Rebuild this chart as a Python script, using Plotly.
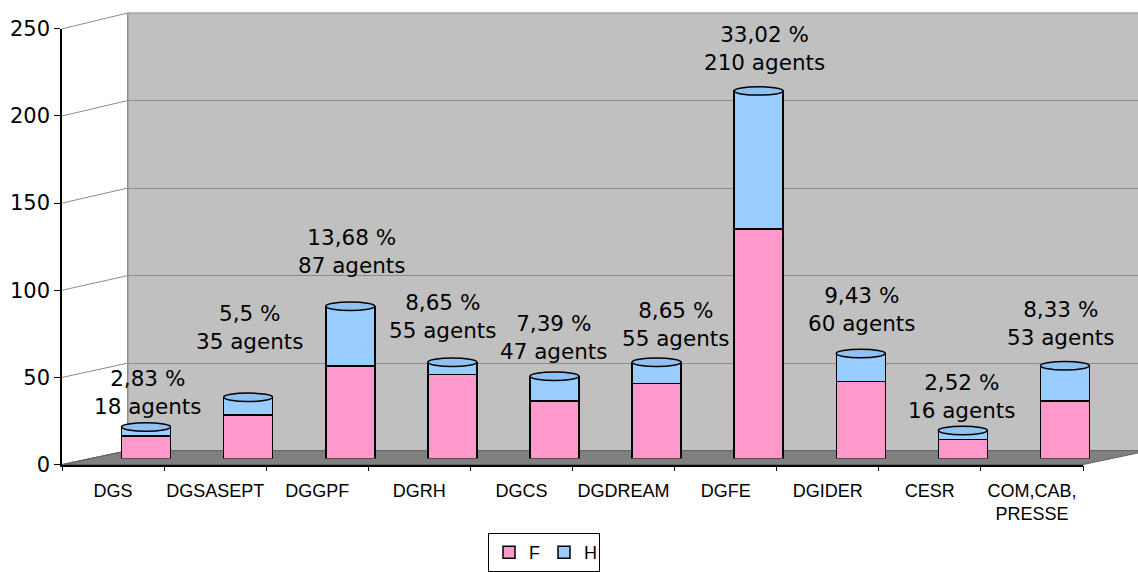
import plotly.graph_objects as go

# ---------------- data ----------------
categories = ["DGS", "DGSASEPT", "DGGPF", "DGRH", "DGCS", "DGDREAM", "DGFE", "DGIDER", "CESR", "COM,CAB,PRESSE"]
tick_labels = ["DGS", "DGSASEPT", "DGGPF", "DGRH", "DGCS", "DGDREAM", "DGFE", "DGIDER", "CESR", "COM,CAB,<br>PRESSE"]
f_values = [13, 25, 53, 48, 33, 43, 131, 44, 11, 33]
h_values = [5, 10, 34, 7, 14, 12, 79, 16, 5, 20]
pct_values = [2.83, 5.5, 13.68, 8.65, 7.39, 8.65, 33.02, 9.43, 2.52, 8.33]
y_ticks = [0, 50, 100, 150, 200, 250]

# label placement tweaks (pixels), layout only
label_dx = [2, 2, 2, -9, 0, 19, 6, 1, -1, -4]
label_dy = [6, 41, 26, 17, 10, 9, 14, 16, 6, 14]

W, H = 1138, 572
def px(x):
    return x / W
def py(y):
    return 1 - y / H

# geometry (pixels)
FRONT_L, FRONT_R, FRONT_B, FRONT_T = 62, 1083, 467, 29
BACK_L, BACK_R, BACK_B, BACK_T = 128, 1149, 453, 13
BAR_L, BAR_R, BAR_B, BAR_T = 95, 1116, 461, 21
YMAX = 250

PINK = "#FF99CC"
BLUE = "#99CCFF"
totals = [f + h for f, h in zip(f_values, h_values)]
idx = list(range(len(categories)))

fig = go.Figure()
# helper traces so the wall grid and front axes are drawn (nothing visible)
fig.add_trace(go.Scatter(x=[i / 10 for i in idx], y=totals, xaxis="x", yaxis="y", mode="none",
                         showlegend=False, hoverinfo="skip"))
fig.add_trace(go.Scatter(x=idx, y=totals, xaxis="x2", yaxis="y2", mode="none",
                         showlegend=False, hoverinfo="skip"))
fig.add_trace(go.Bar(
    x=categories, y=f_values, name="F", xaxis="x3", yaxis="y3", width=0.48,
    marker=dict(color=PINK, line=dict(color="black", width=1.5)),
))
fig.add_trace(go.Bar(
    x=categories, y=h_values, name="H", xaxis="x3", yaxis="y3", width=0.48,
    marker=dict(color=BLUE, line=dict(color="black", width=1.5)),
))

shapes = []
# back wall
shapes.append(dict(type="rect", xref="paper", yref="paper", layer="below",
                   x0=px(BACK_L), x1=px(BACK_R), y0=py(BACK_B), y1=py(BACK_T),
                   fillcolor="#C0C0C0", line=dict(color="#8C8C8C", width=1)))
# floor
floor_path = "M {} {} L {} {} L {} {} L {} {} Z".format(
    px(FRONT_L), py(FRONT_B), px(FRONT_R), py(FRONT_B),
    px(BACK_R), py(BACK_B), px(BACK_L), py(BACK_B))
shapes.append(dict(type="path", xref="paper", yref="paper", layer="below", path=floor_path,
                   fillcolor="#808080", line=dict(color="#606060", width=1)))
# side wall diagonal grid lines
for v in y_ticks:
    yf = FRONT_B - (FRONT_B - FRONT_T) * v / YMAX
    yb = BACK_B - (BACK_B - BACK_T) * v / YMAX
    shapes.append(dict(type="line", xref="paper", yref="paper", layer="below",
                       x0=px(FRONT_L), x1=px(BACK_L), y0=py(yf), y1=py(yb),
                       line=dict(color="#8C8C8C" if v > 0 else "#606060", width=1)))
# cylinder tops
for i, t in enumerate(totals):
    shapes.append(dict(type="circle", xref="x3", yref="y3", layer="above",
                       x0=i - 0.24, x1=i + 0.24, y0=t - 2.4, y1=t + 2.4,
                       fillcolor="#8FC2F2", line=dict(color="black", width=1.5)))

annotations = []
for i, (t, p) in enumerate(zip(totals, pct_values)):
    txt = "{} %<br>{} agents".format(str(p).replace(".", ","), t)
    annotations.append(dict(x=i, y=t, xref="x3", yref="y3", text=txt, showarrow=False,
                            xanchor="center", yanchor="bottom",
                            xshift=label_dx[i], yshift=label_dy[i],
                            font=dict(family="Verdana, DejaVu Sans", size=21.5, color="black")))

fig.update_layout(
    width=W, height=H, autosize=False,
    margin=dict(l=0, r=0, t=0, b=0),
    paper_bgcolor="white", plot_bgcolor="rgba(0,0,0,0)",
    barmode="stack", bargap=0.52,
    shapes=shapes, annotations=annotations,
    # back wall grid
    xaxis=dict(domain=[px(BACK_L), 1], range=[0, 1], anchor="y",
               showgrid=False, zeroline=False, showticklabels=False, ticks="",
               showline=False, automargin=False, fixedrange=True),
    yaxis=dict(domain=[py(BACK_B), py(BACK_T)], range=[0, YMAX], anchor="x",
               tickvals=y_ticks, showgrid=True, gridcolor="#8C8C8C", gridwidth=1,
               zeroline=False, showticklabels=False, ticks="",
               showline=True, linecolor="#8C8C8C", linewidth=1, automargin=False),
    # front axes
    xaxis2=dict(domain=[px(FRONT_L), px(FRONT_R)], range=[-0.5, 9.5], anchor="y2",
                tickmode="array", tickvals=idx, ticktext=tick_labels,
                ticks="outside", ticklen=9, tickcolor="rgba(0,0,0,0)",
                minor=dict(tickmode="array", tickvals=[i - 0.5 for i in range(len(categories) + 1)],
                           ticks="outside", ticklen=5, tickcolor="black", tickwidth=1, showgrid=False),
                showline=True, linecolor="black", linewidth=1.5, showgrid=False, zeroline=False,
                tickfont=dict(family="Arial, Liberation Sans", size=18, color="black"),
                automargin=False),
    yaxis2=dict(domain=[py(FRONT_B), py(FRONT_T)], range=[0, YMAX], anchor="x2",
                tickvals=y_ticks, ticks="outside", ticklen=6, tickcolor="black", tickwidth=1,
                showline=True, linecolor="black", linewidth=1.5, showgrid=False, zeroline=False,
                tickfont=dict(family="Verdana, DejaVu Sans", size=21, color="black"),
                automargin=False),
    # bars
    xaxis3=dict(domain=[px(BAR_L), px(BAR_R)], type="category", range=[-0.5, 9.5],
                anchor="y3", visible=False),
    yaxis3=dict(domain=[py(BAR_B), py(BAR_T)], range=[0, YMAX], anchor="x3", visible=False),
    legend=dict(orientation="h", x=px(544), xanchor="center", y=py(536), yanchor="top",
                bgcolor="white", bordercolor="black", borderwidth=1, traceorder="normal",
                itemwidth=30, entrywidth=10, entrywidthmode="pixels",
                font=dict(family="Arial, Liberation Sans", size=18, color="black")),
    showlegend=True,
)

fig.write_html("out.html", config={"displayModeBar": False},
               post_script="document.body.style.margin='0';document.body.style.overflow='hidden';")
